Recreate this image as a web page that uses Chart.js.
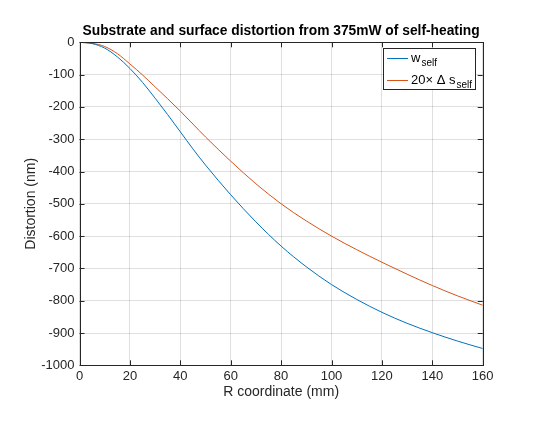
<!DOCTYPE html>
<html>
<head>
<meta charset="utf-8">
<script src="https://cdn.jsdelivr.net/npm/chart.js@4.4.1/dist/chart.umd.min.js"></script>
<style>
  html, body { margin: 0; padding: 0; background: #fff; }
  #wrap { width: 545px; height: 421px; position: relative; }
</style>
</head>
<body>
<div id="wrap"><canvas id="c"></canvas></div>
<script>
// ===== Self-heating distortion =====
const R_MM = [0, 5, 10, 15, 20, 25, 30, 35, 40, 45, 50, 60, 70, 80, 90, 100, 110, 120, 130, 140, 150, 160];
const W_SELF = [0, -4, -18, -45, -81, -124, -173, -224, -277, -330, -380, -472, -556, -631, -695, -750, -796, -836, -870, -899, -925, -948];
const DS_SELF_X20 = [0, -3, -13, -35, -67, -101, -138, -175, -213, -253, -293, -368, -438, -500, -553, -600, -642, -681, -718, -753, -785, -814];
const X_TICKS = [0, 20, 40, 60, 80, 100, 120, 140, 160];
const Y_TICKS = [0, -100, -200, -300, -400, -500, -600, -700, -800, -900, -1000];
const TITLE = 'Substrate and surface distortion from 375mW of self-heating';

const FONT = 'Helvetica, "Liberation Sans", Arial, sans-serif';
const AXIS_COL = '#262626';
const GRID_COL = 'rgba(38,38,38,0.15)';
const BLUE = '#0072BD';
const ORANGE = '#D95319';

const pts = ys => R_MM.map((r, i) => ({ x: r, y: ys[i] }));

// title over the axes, box, inward ticks on all four sides, legend with subscripts
const matlabFrame = {
    id: 'matlabFrame',
    afterDatasetsDraw(chart) {
        const { ctx, chartArea: a, scales: { x, y } } = chart;
        const t = 5;
        ctx.save();

        ctx.fillStyle = '#000';
        ctx.font = 'bold 13.8px ' + FONT;
        ctx.textAlign = 'center';
        ctx.textBaseline = 'alphabetic';
        ctx.fillText(TITLE, (a.left + a.right) / 2, 35);

        ctx.strokeStyle = AXIS_COL;
        ctx.lineWidth = 1;
        ctx.beginPath();
        X_TICKS.forEach(v => {
            const px = Math.round(x.getPixelForValue(v)) + 0.5;
            ctx.moveTo(px, a.bottom); ctx.lineTo(px, a.bottom - t);
            ctx.moveTo(px, a.top); ctx.lineTo(px, a.top + t);
        });
        Y_TICKS.forEach(v => {
            const py = Math.round(y.getPixelForValue(v)) + 0.5;
            ctx.moveTo(a.left, py); ctx.lineTo(a.left + t, py);
            ctx.moveTo(a.right, py); ctx.lineTo(a.right - t, py);
        });
        ctx.stroke();
        ctx.strokeRect(Math.round(a.left) + 0.5, Math.round(a.top) + 0.5,
            Math.round(a.right - a.left), Math.round(a.bottom - a.top));

        // legend
        const lx = 383, ly = 48, lw = 92, lh = 41;
        ctx.fillStyle = '#fff';
        ctx.fillRect(lx, ly, lw, lh);
        ctx.strokeStyle = AXIS_COL;
        ctx.strokeRect(lx + 0.5, ly + 0.5, lw, lh);

        const rows = [
            { color: BLUE, cy: 58, parts: [['w', 13, 0], ['self', 10, 4]] },
            { color: ORANGE, cy: 80, parts: [['20\u00d7 \u0394 s', 13, 0], ['self', 10, 4]] }
        ];
        rows.forEach(row => {
            ctx.strokeStyle = row.color;
            ctx.beginPath();
            ctx.moveTo(387, row.cy + 0.5); ctx.lineTo(408, row.cy + 0.5);
            ctx.stroke();
            let tx = 411;
            ctx.fillStyle = '#000';
            ctx.textAlign = 'left';
            row.parts.forEach(([txt, size, dy]) => {
                ctx.font = size + 'px ' + FONT;
                ctx.fillText(txt, tx, row.cy + 4 + dy);
                tx += ctx.measureText(txt).width + (dy ? 0 : 1);
            });
        });
        ctx.restore();
    }
};

const tickFont = { family: FONT, size: 13 };
const labelFont = { family: FONT, size: 14 };

new Chart(document.getElementById('c').getContext('2d'), {
    type: 'line',
    data: {
        datasets: [
            { label: 'w_self', data: pts(W_SELF), borderColor: BLUE, borderWidth: 1,
              pointRadius: 0, fill: false, cubicInterpolationMode: 'monotone' },
            { label: '20x ds_self', data: pts(DS_SELF_X20), borderColor: ORANGE, borderWidth: 1,
              pointRadius: 0, fill: false, cubicInterpolationMode: 'monotone' }
        ]
    },
    options: {
        responsive: true, maintainAspectRatio: false, animation: false,
        devicePixelRatio: 1,
        layout: { padding: { left: 18.3, right: 62.3, top: 42.3, bottom: 20.5 } },
        scales: {
            x: {
                type: 'linear', min: 0, max: 160,
                afterBuildTicks: s => { s.ticks = X_TICKS.map(v => ({ value: v })); },
                ticks: { color: AXIS_COL, font: tickFont, padding: 3, maxRotation: 0, callback: v => String(v) },
                grid: { color: GRID_COL, drawTicks: false },
                border: { display: false },
                title: { display: true, text: 'R coordinate (mm)', color: AXIS_COL, font: labelFont, padding: 0 },
                afterFit: s => { s.height = 35.2; }
            },
            y: {
                min: -1000, max: 0,
                afterBuildTicks: s => { s.ticks = Y_TICKS.map(v => ({ value: v })); },
                ticks: { color: AXIS_COL, font: tickFont, padding: 5, callback: v => String(v) },
                grid: { color: GRID_COL, drawTicks: false },
                border: { display: false },
                title: { display: true, text: 'Distortion (nm)', color: AXIS_COL, font: labelFont, padding: 4 },
                afterFit: s => { s.width = 61.2; }
            }
        },
        plugins: {
            legend: { display: false },
            tooltip: { enabled: false },
            title: { display: false }
        }
    },
    plugins: [matlabFrame]
});
</script>
</body>
</html>
